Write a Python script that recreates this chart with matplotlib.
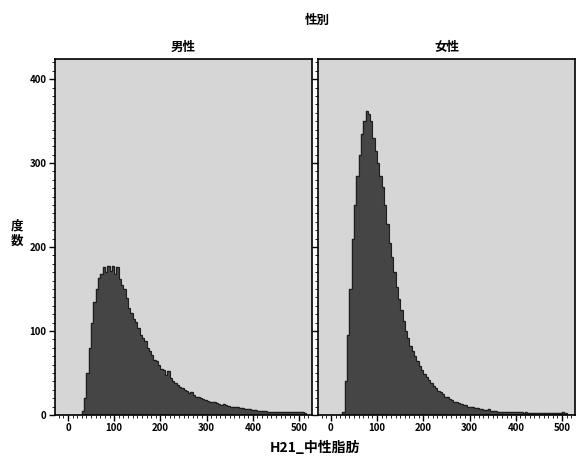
import matplotlib.pyplot as plt
import numpy as np
from matplotlib.ticker import MultipleLocator

plt.rcParams['font.family'] = ['Noto Sans CJK JP', 'DejaVu Sans']

# bin left edges (width 5) and counts
bin_left = list(range(20, 520, 5))

men = [0, 0, 5, 20, 50, 80, 110, 135, 150, 163,
       168, 176, 170, 178, 172, 177, 168, 176, 162, 155,
       150, 139, 128, 122, 114, 111, 104, 95, 92, 88,
       80, 76, 72, 66, 64, 60, 55, 54, 48, 52,
       44, 40, 38, 36, 33, 32, 30, 28, 26, 27,
       24, 22, 21, 20, 19, 18, 17, 16, 15, 16,
       14, 13, 12, 13, 12, 11, 10, 10, 9, 9,
       8, 8, 7, 7, 7, 6, 6, 6, 5, 5,
       5, 5, 4, 4, 4, 4, 4, 4, 3, 3,
       4, 3, 3, 3, 3, 4, 3, 3, 2, 0]

women = [0, 3, 40, 95, 150, 210, 250, 285, 310, 335,
         350, 362, 358, 350, 330, 315, 300, 285, 272, 250,
         228, 205, 188, 170, 152, 138, 125, 112, 100, 92,
         82, 76, 70, 64, 58, 54, 49, 45, 42, 38,
         35, 32, 29, 27, 25, 22, 21, 19, 18, 16,
         15, 14, 13, 12, 12, 10, 10, 9, 8, 8,
         7, 7, 6, 6, 7, 5, 5, 5, 4, 4,
         4, 4, 3, 3, 3, 3, 3, 3, 3, 2,
         3, 2, 2, 2, 2, 2, 2, 2, 2, 2,
         2, 2, 2, 2, 2, 2, 3, 2, 0, 0]

panels = ['男性', '女性']
series = [men, women]

fig = plt.figure(figsize=(5.76, 4.59), dpi=100)
axes = [fig.add_axes([0.0955, 0.0959, 0.4462, 0.7756]),
        fig.add_axes([0.552, 0.0959, 0.4462, 0.7756])]

for ax, name, counts in zip(axes, panels, series):
    ax.set_facecolor('#d6d6d6')
    ax.bar(bin_left, counts, width=5, align='edge', color='#454545',
           edgecolor='#454545', linewidth=0.3)
    # darker outline along the top of the bars
    ax.stairs(counts, bin_left + [bin_left[-1] + 5], color='#1e1e1e', linewidth=0.8)
    ax.set_xlim(-28, 528)
    ax.set_ylim(0, 424)
    ax.set_xticks([0, 100, 200, 300, 400, 500])
    ax.set_yticks([0, 100, 200, 300, 400])
    ax.xaxis.set_minor_locator(MultipleLocator(10))
    ax.yaxis.set_minor_locator(MultipleLocator(10))
    ax.tick_params(which='major', length=4, width=1, labelsize=7, pad=2)
    ax.tick_params(which='minor', length=2, width=0.6)
    for s in ax.spines.values():
        s.set_linewidth(1.2)
        s.set_color('black')
    for lab in ax.get_xticklabels() + ax.get_yticklabels():
        lab.set_fontweight('bold')
    ax.set_title(name, fontsize=9, fontweight='bold', pad=6)

axes[1].tick_params(axis='y', labelleft=False)

fig.text(0.55, 0.955, '性別', ha='center', va='center', fontsize=9, fontweight='bold')
fig.text(0.547, 0.025, 'H21_中性脂肪', ha='center', va='center', fontsize=10, fontweight='bold')
fig.text(0.03, 0.49, '度\n数', ha='center', va='center', fontsize=9, fontweight='bold', linespacing=1.25)

fig.savefig('out.png', dpi=100)
